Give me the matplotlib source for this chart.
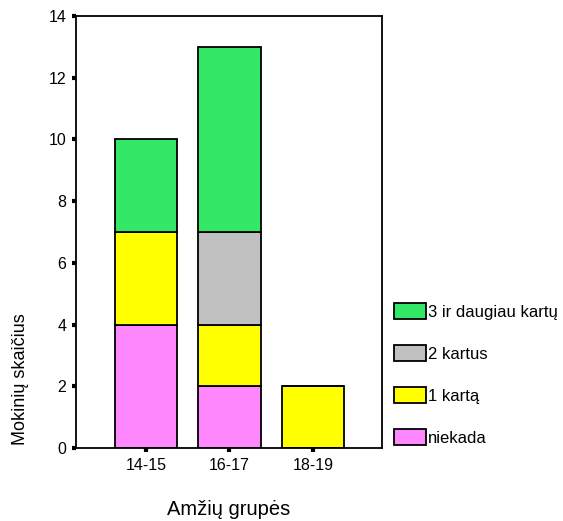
import matplotlib
matplotlib.use('Agg')
import matplotlib.pyplot as plt
import numpy as np

plt.rcParams['font.family'] = ['Liberation Sans', 'DejaVu Sans']

# data
groups = ['14-15', '16-17', '18-19']
series = ['niekada', '1 kartą', '2 kartus', '3 ir daugiau kartų']
niekada = [4, 2, 0]
kartas1 = [3, 2, 2]
kartus2 = [0, 3, 0]
kartu3 = [3, 6, 0]
colors = ['#ff88ff', '#ffff00', '#c0c0c0', '#33e866']

fig = plt.figure(figsize=(5.63, 5.21), dpi=100)
ax = fig.add_axes([76 / 563, 73 / 521, 306 / 563, 432 / 521])

x = np.arange(len(groups))
bottom = np.zeros(len(groups))
handles = []
for vals, col, name in zip([niekada, kartas1, kartus2, kartu3], colors, series):
    vals = np.array(vals, dtype=float)
    b = ax.bar(x, vals, width=0.75, bottom=bottom, color=col, edgecolor='black',
               linewidth=1.3, label=name)
    handles.append(b)
    bottom += vals

ax.set_xlim(-0.84, 2.83)
ax.set_ylim(0, 14)
ax.set_yticks(range(0, 15, 2))
ax.set_xticks(x)
ax.set_xticklabels(groups)
for s in ax.spines.values():
    s.set_linewidth(1.3)
ax.tick_params(axis='both', direction='out', length=3, width=3, labelsize=11.5, pad=4)

ax.set_ylabel('Mokinių skaičius', fontsize=13)
ax.yaxis.set_label_coords(-0.154, 0.16)
ax.set_xlabel('Amžių grupės', fontsize=14.5)
ax.xaxis.set_label_coords(0.5, -0.12)

ax.legend(handles[::-1], series[::-1], loc='upper left', bbox_to_anchor=(1.039, 0.336),
          frameon=False, fontsize=12, handlelength=1.95, handleheight=1.1,
          handletextpad=0.1, labelspacing=1.53, borderpad=0, borderaxespad=0)

fig.savefig('out.png', dpi=100)
